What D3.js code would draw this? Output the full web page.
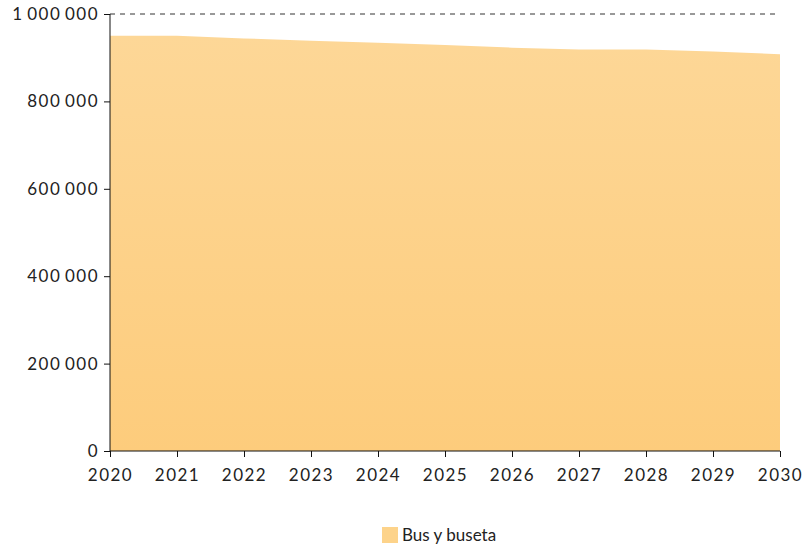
<!DOCTYPE html>
<html>
<head>
<meta charset="utf-8">
<script src="https://cdn.jsdelivr.net/npm/d3@7"></script>
<style>
body { margin: 0; background: #fff; }
text { font-family: Lato, "Open Sans", sans-serif; }
</style>
</head>
<body>
<div id="chart"></div>
<script>
// data
var years = [2020, 2021, 2022, 2023, 2024, 2025, 2026, 2027, 2028, 2029, 2030];
var busBuseta = [950000, 950000, 944000, 939000, 934000, 929000, 923000, 919000, 919000, 914000, 908000];
var yTicks = [0, 200000, 400000, 600000, 800000, 1000000];
var seriesName = "Bus y buseta";

var W = 803, H = 550, mLeft = 110, mRight = 780, mTop = 14, mBottom = 451;

var svg = d3.select("#chart").append("svg").attr("width", W).attr("height", H);

var x = d3.scaleLinear().domain([2020, 2030]).range([mLeft, mRight]);
var y = d3.scaleLinear().domain([0, 1000000]).range([mBottom, mTop]);

var fmt = function(d) { return d3.format(",")(d).replace(/,/g, "\u2009"); };

var defs = svg.append("defs");
var grad = defs.append("linearGradient").attr("id", "g1")
	.attr("x1", 0).attr("y1", 0).attr("x2", 0).attr("y2", 1);
grad.append("stop").attr("offset", "0%").attr("stop-color", "#fdd797");
grad.append("stop").attr("offset", "100%").attr("stop-color", "#fdcc7c");

// dashed line at the top
svg.append("line")
	.attr("x1", mLeft).attr("x2", mRight)
	.attr("y1", y(1000000)).attr("y2", y(1000000))
	.attr("stroke", "#333").attr("stroke-dasharray", "5,5").attr("stroke-width", 1);

var area = d3.area()
	.x(function(d, i) { return x(years[i]); })
	.y0(y(0))
	.y1(function(d) { return y(d); });
svg.append("path").datum(busBuseta)
	.attr("d", area)
	.attr("fill", "url(#g1)");

var yAxis = svg.append("g").attr("transform", "translate(" + mLeft + ",0)")
	.call(d3.axisLeft(y).tickValues(yTicks).tickFormat(fmt).tickSize(6).tickPadding(5));
var xAxis = svg.append("g").attr("transform", "translate(0," + mBottom + ")")
	.call(d3.axisBottom(x).tickValues(years).tickFormat(d3.format("d")).tickSize(6).tickPadding(12));

[yAxis, xAxis].forEach(function(a) {
	a.selectAll("path, line").attr("stroke", "#111");
	a.selectAll("text").attr("fill", "#222").style("font-size", "17px")
		.style("font-family", "Lato, 'Open Sans', sans-serif").style("letter-spacing", "1.5px");
});
yAxis.select(".domain").attr("d", "M0," + mTop + "V" + mBottom);
xAxis.select(".domain").attr("d", "M" + mLeft + ",0H" + mRight);

// legend
var lg = svg.append("g").attr("transform", "translate(382,527)");
lg.append("rect").attr("width", 16).attr("height", 16).attr("fill", "#fdd38a");
lg.append("text").attr("x", 20).attr("y", 14).text(seriesName)
	.style("font-size", "17px").attr("fill", "#222");
</script>
</body>
</html>
